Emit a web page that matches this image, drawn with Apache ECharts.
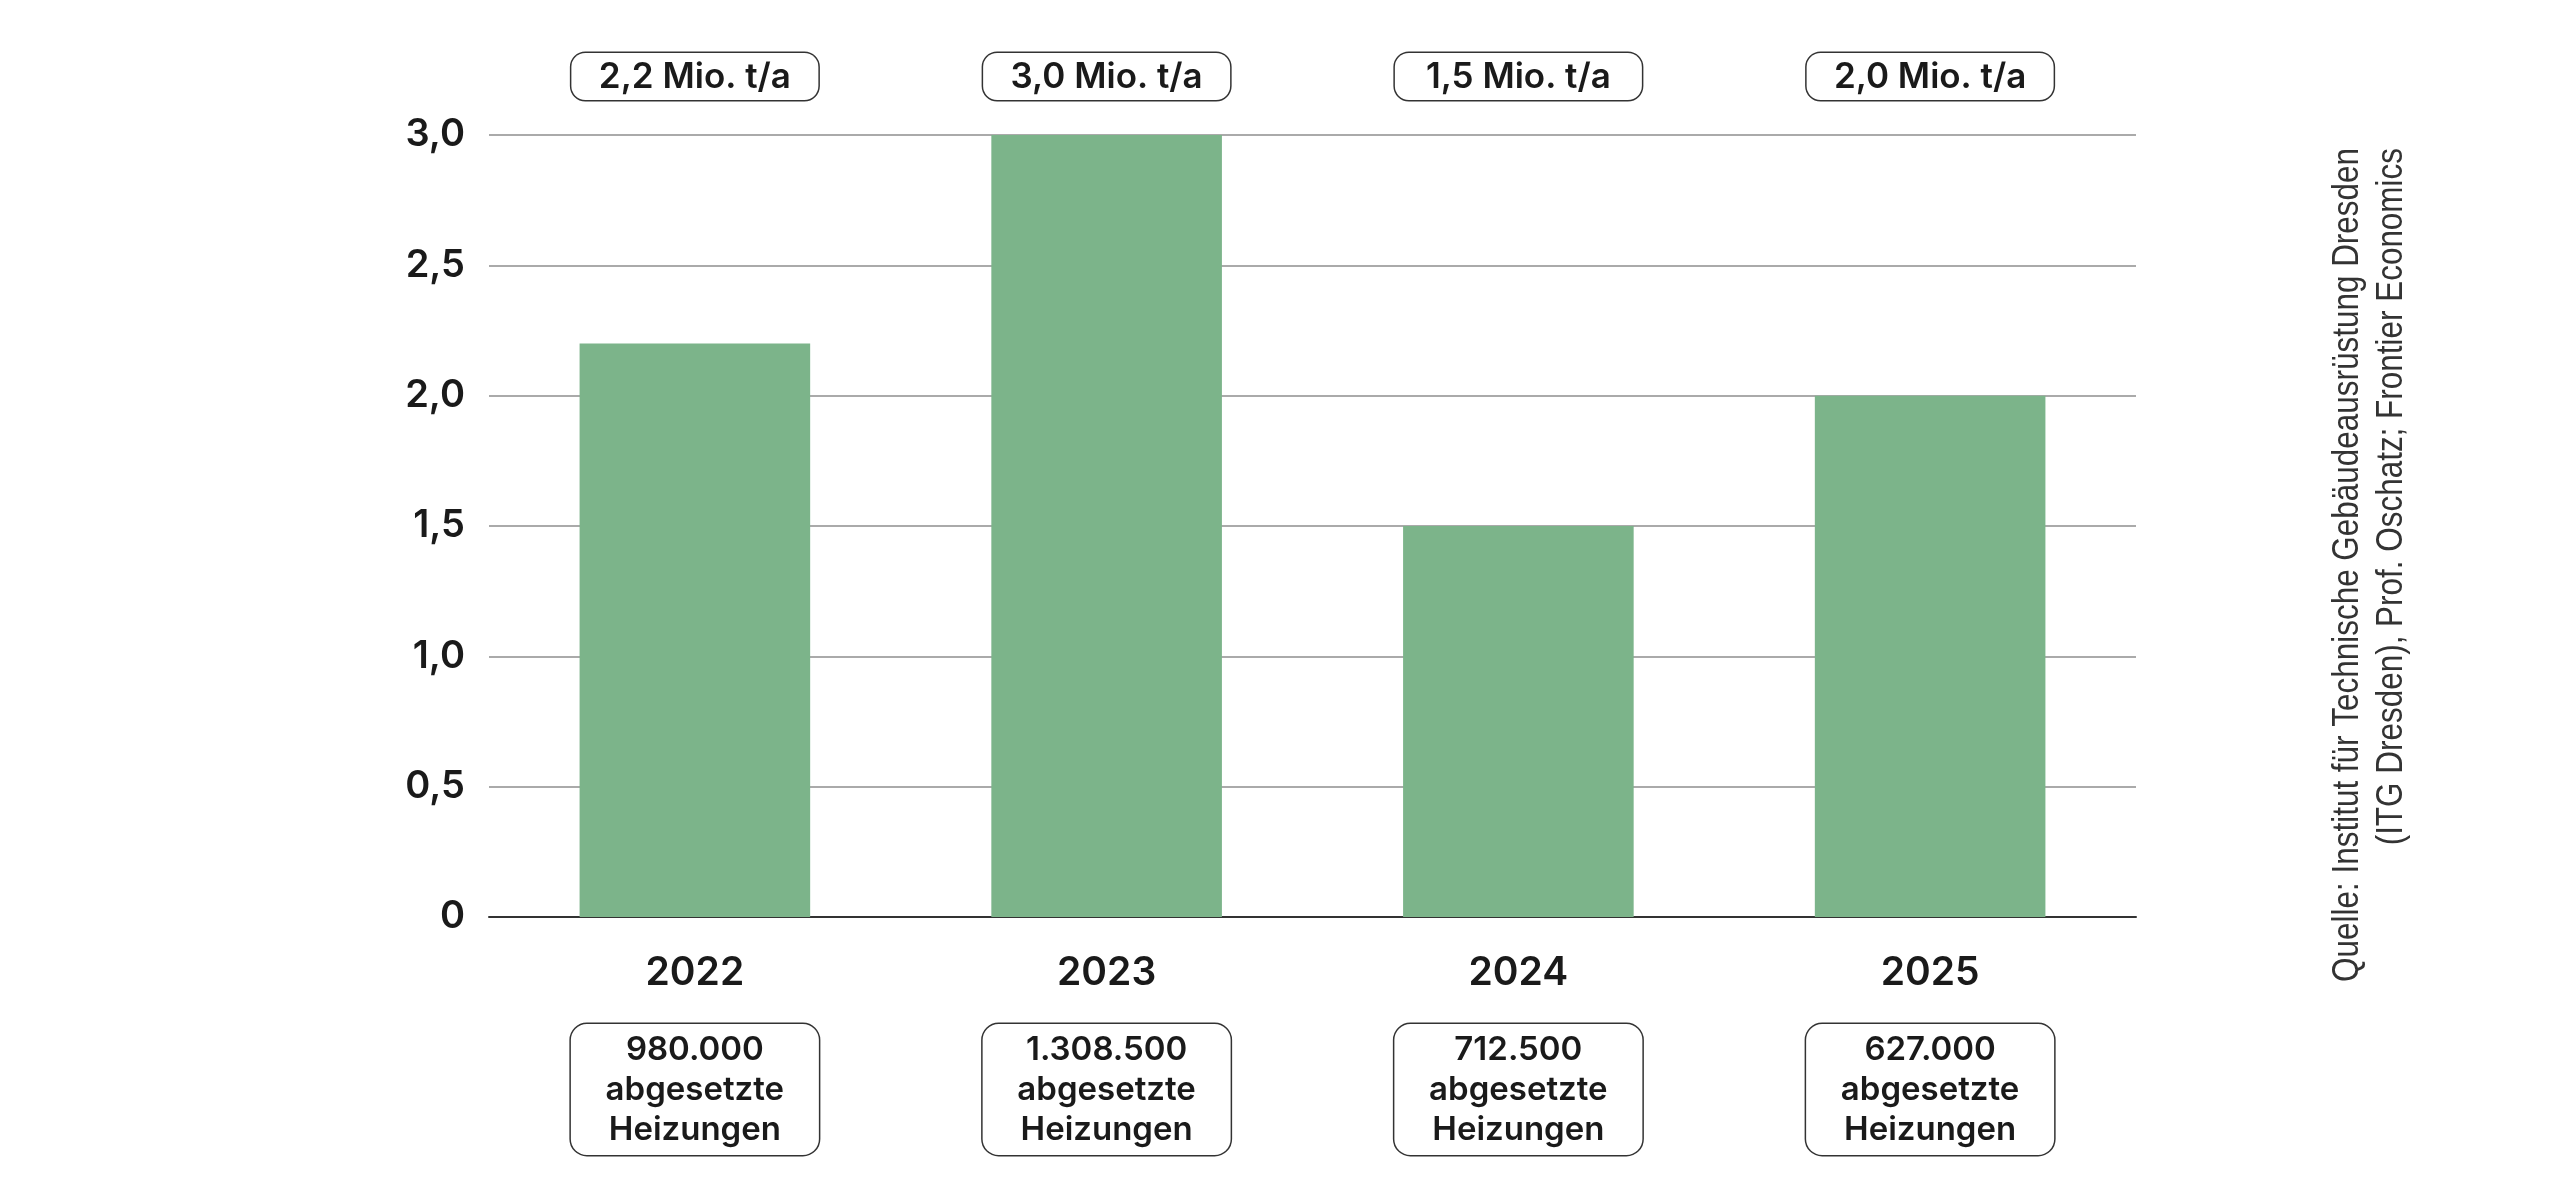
<!DOCTYPE html>
<html>
<head>
<meta charset="utf-8">
<script src="https://cdn.jsdelivr.net/npm/echarts/dist/echarts.min.js"></script>
<style>
html,body{margin:0;padding:0;background:#ffffff;}
#chart{width:2560px;height:1196px;}
</style>
</head>
<body>
<div id="chart"></div>
<script>
// ---- data ----
const years = ['2022', '2023', '2024', '2025'];
const emissions = [2.2, 3.0, 1.5, 2.0];           // Mio. t/a
const topLabels = ['2,2 Mio. t/a', '3,0 Mio. t/a', '1,5 Mio. t/a', '2,0 Mio. t/a'];
const heatingSales = ['980.000', '1.308.500', '712.500', '627.000'];
const salesSuffix = 'abgesetzte\nHeizungen';
const yTicks = [0, 0.5, 1, 1.5, 2, 2.5, 3];
const yTickLabels = ['0', '0,5', '1,0', '1,5', '2,0', '2,5', '3,0'];
const sourceLines = [
  'Quelle: Institut für Technische Gebäudeausrüstung Dresden',
  '(ITG Dresden), Prof. Oschatz; Frontier Economics'
];

const FONT = 'Inter, "Noto Sans", sans-serif';
const chart = echarts.init(document.getElementById('chart'), null, {renderer: 'canvas'});

const option = {
  backgroundColor: '#ffffff',
  animation: false,
  grid: {left: 489, right: 424, top: 135, bottom: 279, containLabel: false},
  xAxis: [
    {
      type: 'category', data: years, position: 'bottom',
      axisLine: {show: true, lineStyle: {color: '#333333', width: 2}},
      axisTick: {show: false},
      axisLabel: {interval: 0, margin: 37, fontSize: 39, fontWeight: 600, color: '#1a1a1a', fontFamily: FONT}
    },
    {
      type: 'category', data: years, position: 'bottom',
      axisLine: {show: false}, axisTick: {show: false},
      axisLabel: {
        interval: 0, margin: 107,
        formatter: (v, i) => heatingSales[i] + '\n' + salesSuffix,
        fontSize: 33, fontWeight: 600, color: '#1a1a1a', fontFamily: FONT,
        lineHeight: 40, width: 220, align: 'center',
        padding: [6, 14, 5, 14],
        borderColor: '#333333', borderWidth: 1.5, borderRadius: 16, backgroundColor: '#ffffff'
      }
    },
    {
      type: 'category', data: years, position: 'top',
      axisLine: {show: false}, axisTick: {show: false},
      axisLabel: {
        interval: 0, margin: 35,
        formatter: (v, i) => topLabels[i],
        fontSize: 35, fontWeight: 600, color: '#1a1a1a', fontFamily: FONT,
        lineHeight: 36, width: 219, align: 'center',
        padding: [6, 14, 5, 14],
        borderColor: '#333333', borderWidth: 1.5, borderRadius: 14, backgroundColor: '#ffffff'
      }
    }
  ],
  yAxis: {
    type: 'value', min: 0, max: 3, interval: 0.5,
    axisLine: {show: false}, axisTick: {show: false},
    splitLine: {show: true, lineStyle: {color: '#aaaaaa', width: 2}},
    axisLabel: {
      margin: 24, fontSize: 38, fontWeight: 600, color: '#1a1a1a', fontFamily: FONT,
      formatter: (v) => {
        const idx = yTicks.findIndex(t => Math.abs(t - v) < 1e-9);
        return idx >= 0 ? yTickLabels[idx] : '';
      }
    }
  },
  series: [{
    type: 'bar', xAxisIndex: 0, data: emissions, barWidth: '56%',
    itemStyle: {color: '#7cb48a'}
  }],
  graphic: [{
    type: 'text',
    x: 2326, y: 148,
    rotation: Math.PI / 2,
    scaleX: 0.85,
    style: {
      text: sourceLines.join('\n'),
      font: '400 37px "Liberation Sans", Arial, sans-serif',
      lineHeight: 44,
      fill: '#333333',
      align: 'right',
      verticalAlign: 'top'
    }
  }]
};
chart.setOption(option);
</script>
</body>
</html>
